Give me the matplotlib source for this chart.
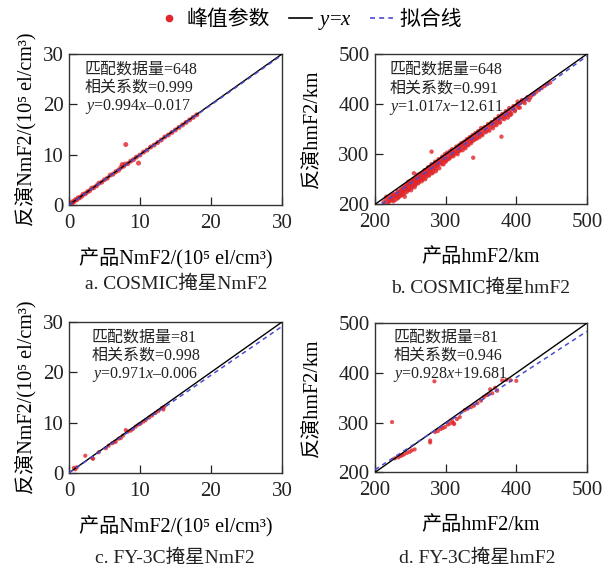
import matplotlib
matplotlib.use("Agg")
import matplotlib.pyplot as plt
from matplotlib.lines import Line2D

plt.rcParams['font.family'] = ['Liberation Serif', 'Noto Sans CJK SC']
plt.rcParams['mathtext.fontset'] = 'custom'
plt.rcParams['mathtext.rm'] = 'Liberation Serif'
plt.rcParams['mathtext.it'] = 'Liberation Serif:italic'

# --- data ---
# a. COSMIC NmF2 (10^5 el/cm^3)
a_x = [0.2, 0.4, 0.5, 0.7, 0.9, 1.1, 1.3, 1.5, 1.8, 2.0, 2.3, 2.6, 2.9, 3.2, 3.5,
       3.9, 4.2, 4.6, 5.0, 5.4, 5.8, 6.2, 6.6, 7.0, 7.3, 7.5, 7.7, 7.9, 8.0, 8.3,
       8.7, 9.1, 9.5, 9.8, 10.0, 10.5, 11.0, 11.5, 12.0, 12.5, 13.0, 13.5, 14.0,
       14.5, 15.0, 15.5, 16.0, 16.5, 17.0, 17.5, 18.0]
a_y = [0.3, 0.3, 0.6, 0.6, 1.0, 1.0, 1.4, 1.4, 1.7, 2.1, 2.2, 2.6, 2.8, 3.3, 3.4,
       3.8, 4.3, 4.5, 5.0, 5.3, 5.9, 6.1, 6.6, 6.9, 7.4, 8.0, 7.7, 8.1, 12.0, 8.2,
       8.7, 9.0, 9.5, 8.3, 9.9, 10.5, 10.9, 11.5, 11.9, 12.4, 12.9, 13.5, 13.9,
       14.4, 14.9, 15.4, 15.9, 16.4, 16.9, 17.4, 17.9]

# b. COSMIC hmF2 (km)
b_x = [212, 215, 218, 220, 222, 224, 225, 226, 228, 229, 230, 231, 232, 233, 234,
       235, 236, 237, 238, 239, 240, 241, 242, 243, 244, 245, 246, 247, 248, 249,
       250, 251, 252, 253, 254, 255, 256, 257, 258, 259, 260, 261, 262, 263, 264,
       265, 266, 267, 268, 269, 270, 271, 272, 273, 274, 275, 276, 277, 278, 279,
       280, 281, 282, 283, 284, 285, 286, 287, 288, 289, 290, 292, 294, 295, 296,
       298, 300, 301, 303, 305, 306, 308, 310, 311, 313, 315, 316, 318, 320, 321,
       323, 325, 326, 328, 330, 331, 333, 335, 336, 338, 340, 342, 344, 345, 347,
       349, 350, 352, 354, 356, 358, 360, 362, 364, 366, 368, 370, 372, 374, 376,
       378, 380, 382, 384, 386, 388, 390, 392, 395, 398, 400, 403, 406, 410, 414,
       418, 420, 425, 432, 440, 448, 379, 339, 280, 391, 402, 255, 262, 300, 247,
       214, 216, 219, 221, 223, 226, 227, 229, 232, 233, 235, 237, 239, 240, 242,
       244, 245, 247, 248, 250, 251, 253, 254, 256, 257, 258, 260, 261, 263, 264,
       266, 267, 268, 270, 271, 273, 275, 276, 278, 280, 281, 283, 285, 286, 288,
       290, 291, 293, 295, 297, 299, 300, 302, 304, 306, 307, 309, 311, 313, 315,
       317, 319, 320, 322, 324, 326, 328, 330, 332, 334, 336, 338, 340, 342, 344,
       346, 348, 350, 352, 355, 357, 360, 362, 365, 367, 370, 372, 375, 377, 380,
       383, 385, 388, 390, 393, 396, 398, 402, 405, 408, 412, 416, 422, 428, 436,
       444]
b_y = [204, 210, 206, 214, 211, 208, 216, 213, 219, 215, 221, 217, 212, 224, 220,
       226, 222, 218, 229, 225, 231, 227, 222, 234, 230, 237, 232, 228, 240, 235,
       242, 237, 233, 246, 241, 248, 243, 238, 251, 247, 254, 249, 244, 256, 252,
       258, 255, 249, 262, 257, 264, 260, 254, 267, 262, 270, 265, 259, 272, 268,
       276, 271, 264, 278, 274, 281, 276, 270, 283, 278, 286, 282, 288, 280, 291,
       287, 295, 289, 298, 292, 301, 297, 305, 299, 308, 303, 311, 306, 315, 309,
       318, 313, 321, 316, 326, 319, 328, 324, 331, 327, 336, 331, 340, 334, 343,
       339, 346, 341, 350, 346, 354, 349, 358, 354, 362, 357, 366, 362, 370, 365,
       374, 371, 377, 374, 382, 379, 386, 383, 391, 388, 397, 393, 402, 405, 410,
       408, 413, 420, 428, 436, 443, 335, 293, 305, 378, 405, 262, 250, 285, 245,
       200, 215, 203, 207, 219, 206, 220, 209, 226, 214, 216, 230, 219, 236, 215,
       238, 225, 242, 230, 246, 228, 236, 250, 234, 253, 241, 259, 242, 249, 261,
       246, 263, 252, 268, 250, 259, 274, 257, 266, 280, 262, 271, 285, 266, 277,
       290, 272, 284, 295, 280, 300, 288, 303, 290, 306, 294, 310, 296, 302, 315,
       300, 318, 307, 322, 308, 325, 312, 330, 318, 334, 322, 338, 328, 342, 331,
       346, 334, 352, 338, 354, 344, 360, 347, 364, 352, 370, 358, 376, 363, 380,
       370, 386, 373, 392, 380, 396, 386, 400, 393, 408, 402, 414, 418, 424, 432,
       440]

# c. FY-3C NmF2 (10^5 el/cm^3)
c_x = [0.7, 0.9, 1.1, 2.3, 3.3, 3.4, 4.2, 5.2, 5.6, 6.1, 6.4, 6.6, 7.0, 7.3, 7.6,
       8.0, 8.3, 8.7, 9.0, 9.4, 9.8, 10.1, 10.5, 10.8, 11.3, 11.7, 12.2, 12.6,
       13.1, 13.3, 13.4]
c_y = [1.0, 0.7, 1.1, 3.4, 2.9, 2.8, 4.1, 4.9, 5.4, 5.9, 6.1, 6.2, 6.8, 6.9, 7.4,
       8.5, 8.2, 8.4, 8.7, 9.2, 9.6, 9.8, 10.2, 10.5, 11.0, 11.4, 11.9, 12.3,
       12.9, 12.6, 13.1]

# d. FY-3C hmF2 (km)
d_x = [224, 284, 228, 233, 236, 238, 241, 245, 249, 252, 256, 278, 278, 285, 289,
       293, 296, 299, 303, 306, 309, 311, 312, 316, 320, 327, 331, 336, 340, 345,
       350, 354, 358, 361, 363, 366, 370, 373, 380, 386, 392, 400]
d_y = [301, 383, 228, 230, 233, 234, 236, 239, 241, 244, 246, 264, 260, 281, 283,
       287, 289, 291, 296, 298, 303, 299, 297, 307, 311, 325, 328, 331, 334, 339,
       344, 351, 355, 357, 367, 359, 370, 364, 385, 386, 385, 384]

n_match = [648, 648, 81, 81]
corr = ['0.999', '0.991', '0.998', '0.946']
slope = [0.994, 1.017, 0.971, 0.928]
intercept = [-0.017, -12.611, -0.006, 19.681]
fit_text = ['$y$=0.994$x$\u20130.017', '$y$=1.017$x$\u221212.611',
            '$y$=0.971$x$\u20130.006', '$y$=0.928$x$+19.681']
captions = ['a. COSMIC掩星NmF2', 'b. COSMIC掩星hmF2',
            'c. FY-3C掩星NmF2', 'd. FY-3C掩星hmF2']
nm_xlabel = '产品NmF2/(10\u2075 el/cm\u00b3)'
nm_ylabel = '反演NmF2/(10\u2075 el/cm\u00b3)'
hm_xlabel = '产品hmF2/km'
hm_ylabel = '反演hmF2/km'

RED = '#e0262b'
BLUE = '#4a4ad2'

fig = plt.figure(figsize=(6.05, 5.69), dpi=100)

# axes rectangles in figure fractions
rects = [
    [0.114, 0.640, 0.352, 0.265],
    [0.620, 0.641, 0.350, 0.264],
    [0.114, 0.169, 0.352, 0.265],
    [0.620, 0.170, 0.350, 0.262],
]
data = [(a_x, a_y), (b_x, b_y), (c_x, c_y), (d_x, d_y)]
marker_size = [13, 10, 9, 9]
text_pos = [(0.075, [0.90, 0.775, 0.65]),
            (0.066, [0.90, 0.773, 0.647]),
            (0.108, [0.90, 0.775, 0.65]),
            (0.085, [0.906, 0.78, 0.655])]
cap_pos = [(0.291, 0.501), (0.795, 0.494), (0.289, 0.019), (0.789, 0.019)]

for i, rect in enumerate(rects):
    ax = fig.add_axes(rect)
    is_nm = i in (0, 2)
    lo, hi = (0, 30) if is_nm else (200, 500)
    ticks = [0, 10, 20, 30] if is_nm else [200, 300, 400, 500]

    xs, ys = data[i]
    ax.scatter(xs, ys, s=marker_size[i], color=RED, alpha=0.8,
               edgecolors='none', zorder=2)
    ax.plot([lo, hi], [lo, hi], color='black', lw=1.0, zorder=3)
    ax.plot([lo, hi], [slope[i] * lo + intercept[i], slope[i] * hi + intercept[i]],
            color=BLUE, lw=1.1, ls=(0, (3, 2.5)), zorder=4)

    ax.set_xlim(lo, hi)
    ax.set_ylim(lo, hi)
    ax.set_xticks(ticks)
    ax.set_yticks(ticks)
    ax.tick_params(direction='in', length=6, width=0.9, labelsize=15,
                   colors='#222222')
    ax.tick_params(axis='x', pad=6.5)
    ax.tick_params(axis='y', pad=4)
    for sp in ax.spines.values():
        sp.set_color('#333333')
        sp.set_linewidth(1.0)

    ax.set_xlabel(nm_xlabel if is_nm else hm_xlabel, fontsize=14.5, labelpad=11)
    ax.set_ylabel(nm_ylabel if is_nm else hm_ylabel, fontsize=14.5,
                  labelpad=4 if is_nm else 12)

    tx, tys = text_pos[i]
    lines = ['匹配数据量=%d' % n_match[i], '相关系数=%s' % corr[i], fit_text[i]]
    for ty, s in zip(tys, lines):
        ax.text(tx, ty, s, transform=ax.transAxes, fontsize=11.5,
                va='center', ha='left', color='#222222')

    fig.text(cap_pos[i][0], cap_pos[i][1], captions[i], fontsize=14,
             ha='center', va='center', color='#222222')

handles = [
    Line2D([], [], ls='none', marker='o', color=RED, markersize=4.5),
    Line2D([], [], color='black', lw=1.2),
    Line2D([], [], color=BLUE, lw=1.2, ls=(0, (3, 2.5))),
]
fig.legend(handles, ['峰值参数', '$y$=$x$', '拟合线'], loc='center',
           bbox_to_anchor=(0.512, 0.963), ncol=3, frameon=False, fontsize=15,
           handlelength=1.1, handletextpad=0.3, columnspacing=0.9)

fig.savefig('out.png', dpi=100)
